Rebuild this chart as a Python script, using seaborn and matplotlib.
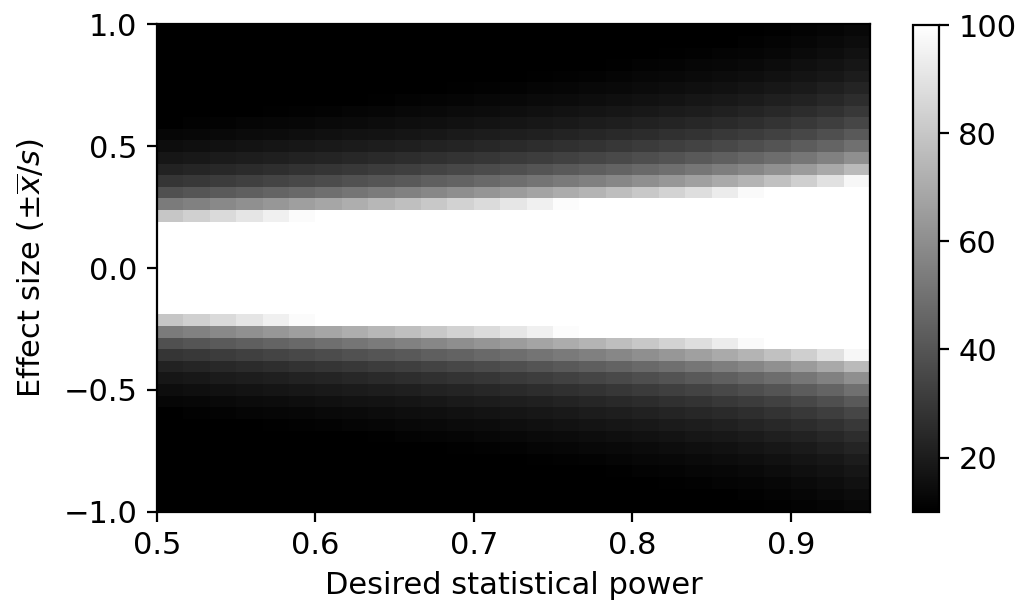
import matplotlib
matplotlib.use("Agg")
import matplotlib.pyplot as plt
import pandas as pd
import seaborn as sns

# desired power (columns) and effect size (rows, positive half; the map is mirrored about 0)
power = [0.5, 0.5173, 0.5346, 0.5519, 0.5692, 0.5865, 0.6038, 0.6212, 0.6385,
         0.6558, 0.6731, 0.6904, 0.7077, 0.725, 0.7423, 0.7596, 0.7769, 0.7942,
         0.8115, 0.8288, 0.8462, 0.8635, 0.8808, 0.8981, 0.9154, 0.9327, 0.95]
effect_pos = [0.0244, 0.0732, 0.122, 0.1707, 0.2195, 0.2683, 0.3171, 0.3659,
              0.4146, 0.4634, 0.5122, 0.561, 0.6098, 0.6585, 0.7073, 0.7561,
              0.8049, 0.8537, 0.9024, 0.9512, 1.0]

n_pos = [
    [100] * 27,
    [100] * 27,
    [100] * 27,
    [100] * 27,
    [79.7, 83.2, 86.9, 90.7, 94.6, 98.5, 100, 100, 100, 100, 100, 100, 100, 100,
     100, 100, 100, 100, 100, 100, 100, 100, 100, 100, 100, 100, 100],
    [53.4, 55.7, 58.2, 60.7, 63.3, 65.9, 68.7, 71.5, 74.4, 77.4, 80.6, 83.9, 87.3,
     90.9, 94.6, 98.6, 100, 100, 100, 100, 100, 100, 100, 100, 100, 100, 100],
    [38.2, 39.9, 41.7, 43.5, 45.3, 47.2, 49.2, 51.2, 53.3, 55.4, 57.7, 60.0, 62.5,
     65.1, 67.8, 70.6, 73.6, 76.9, 80.4, 84.2, 88.3, 93.0, 98.0, 100, 100, 100, 100],
    [28.7, 30.0, 31.3, 32.7, 34.1, 35.5, 37.0, 38.5, 40.0, 41.6, 43.4, 45.1, 47.0,
     48.9, 50.9, 53.1, 55.3, 57.8, 60.4, 63.3, 66.3, 69.8, 73.6, 78.0, 83.0, 89.2, 97.1],
    [22.3, 23.3, 24.4, 25.4, 26.5, 27.6, 28.8, 29.9, 31.2, 32.4, 33.8, 35.1, 36.6,
     38.1, 39.6, 41.3, 43.1, 45.0, 47.0, 49.3, 51.7, 54.4, 57.3, 60.7, 64.7, 69.5, 75.6],
    [17.9, 18.7, 19.5, 20.4, 21.2, 22.1, 23.0, 24.0, 25.0, 26.0, 27.0, 28.1, 29.3,
     30.5, 31.7, 33.1, 34.5, 36.0, 37.6, 39.4, 41.4, 43.5, 45.9, 48.6, 51.8, 55.6, 60.5],
    [14.6, 15.3, 16.0, 16.7, 17.4, 18.1, 18.9, 19.6, 20.4, 21.2, 22.1, 23.0, 24.0,
     24.9, 26.0, 27.1, 28.2, 29.5, 30.8, 32.3, 33.9, 35.6, 37.6, 39.8, 42.4, 45.5, 49.5],
    [12.2, 12.8, 13.3, 13.9, 14.5, 15.1, 15.7, 16.4, 17.0, 17.7, 18.4, 19.2, 20.0,
     20.8, 21.6, 22.6, 23.5, 24.6, 25.7, 26.9, 28.2, 29.7, 31.3, 33.2, 35.3, 38.0, 41.3],
    [10.3, 10.8, 11.3, 11.8, 12.3, 12.8, 13.3, 13.8, 14.4, 15.0, 15.6, 16.2, 16.9,
     17.6, 18.3, 19.1, 19.9, 20.8, 21.7, 22.8, 23.9, 25.1, 26.5, 28.1, 29.9, 32.1, 34.9],
    [10, 10, 10, 10.1, 10.5, 10.9, 11.4, 11.9, 12.4, 12.9, 13.4, 13.9, 14.5,
     15.1, 15.7, 16.4, 17.1, 17.8, 18.6, 19.5, 20.5, 21.5, 22.7, 24.1, 25.6, 27.5, 30.0],
    [10, 10, 10, 10, 10, 10, 10, 10.3, 10.7, 11.1, 11.6, 12.1, 12.6,
     13.1, 13.6, 14.2, 14.8, 15.5, 16.2, 16.9, 17.8, 18.7, 19.7, 20.9, 22.2, 23.9, 26.0],
    [10, 10, 10, 10, 10, 10, 10, 10, 10, 10, 10.1, 10.6, 11.0,
     11.4, 11.9, 12.4, 12.9, 13.5, 14.1, 14.8, 15.5, 16.3, 17.2, 18.3, 19.4, 20.9, 22.7],
    [10, 10, 10, 10, 10, 10, 10, 10, 10, 10, 10, 10, 10,
     10.1, 10.5, 11.0, 11.4, 11.9, 12.5, 13.1, 13.7, 14.4, 15.2, 16.1, 17.2, 18.4, 20.1],
    [10, 10, 10, 10, 10, 10, 10, 10, 10, 10, 10, 10, 10,
     10, 10, 10, 10.2, 10.6, 11.1, 11.6, 12.2, 12.8, 13.5, 14.3, 15.3, 16.4, 17.8],
    [10, 10, 10, 10, 10, 10, 10, 10, 10, 10, 10, 10, 10,
     10, 10, 10, 10, 10, 10, 10.4, 10.9, 11.5, 12.1, 12.8, 13.7, 14.7, 16.0],
    [10, 10, 10, 10, 10, 10, 10, 10, 10, 10, 10, 10, 10,
     10, 10, 10, 10, 10, 10, 10, 10, 10.3, 10.9, 11.5, 12.3, 13.2, 14.4],
    [10, 10, 10, 10, 10, 10, 10, 10, 10, 10, 10, 10, 10,
     10, 10, 10, 10, 10, 10, 10, 10, 10, 10, 10.4, 11.1, 11.9, 13.0],
]

x_ticks = [0.5, 0.6, 0.7, 0.8, 0.9]
y_ticks = [1.0, 0.5, 0.0, -0.5, -1.0]
cbar_ticks = [20, 40, 60, 80, 100]

# top row = +1, bottom row = -1
effect = effect_pos[::-1] + [-e for e in effect_pos]
rows = n_pos[::-1] + n_pos
df = pd.DataFrame(rows, index=effect, columns=power)

fs = 11
fig = plt.figure(figsize=(5.1, 3.015), dpi=200)
ax = fig.add_axes([0.1539, 0.1514, 0.699, 0.808])
cax = fig.add_axes([0.895, 0.1514, 0.0255, 0.807])

sns.heatmap(df, cmap="gray", vmin=10, vmax=100, ax=ax, cbar_ax=cax,
            xticklabels=False, yticklabels=False, linewidths=0)

# numeric axes over the cell grid (edges at first / last value, like imshow extent)
ncol, nrow = df.shape[1], df.shape[0]
x0, x1 = power[0], power[-1]
y0, y1 = 1.0, -1.0
ax.set_xticks([(t - x0) / (x1 - x0) * ncol for t in x_ticks])
ax.set_xticklabels([f"{t:.1f}" for t in x_ticks])
ax.set_yticks([(y0 - t) / (y0 - y1) * nrow for t in y_ticks])
ax.set_yticklabels([f"{t:.1f}".replace("-", "\u2212") for t in y_ticks], rotation=0)

for sp in ax.spines.values():
    sp.set_visible(True)
    sp.set_linewidth(0.8)
    sp.set_color("black")
ax.tick_params(length=3.5, width=0.8, labelsize=fs)

ax.set_xlabel("Desired statistical power", fontsize=fs, labelpad=4)
ax.set_ylabel(r"Effect size ($\pm\overline{x}/s$)", fontsize=fs, labelpad=6)

cb = ax.collections[0].colorbar
cb.set_ticks(cbar_ticks)
cb.outline.set_visible(True)
cb.outline.set_linewidth(0.8)
cb.outline.set_edgecolor("black")
cb.ax.tick_params(length=3.5, width=0.8, labelsize=fs)

fig.savefig("out.png", dpi=200)
